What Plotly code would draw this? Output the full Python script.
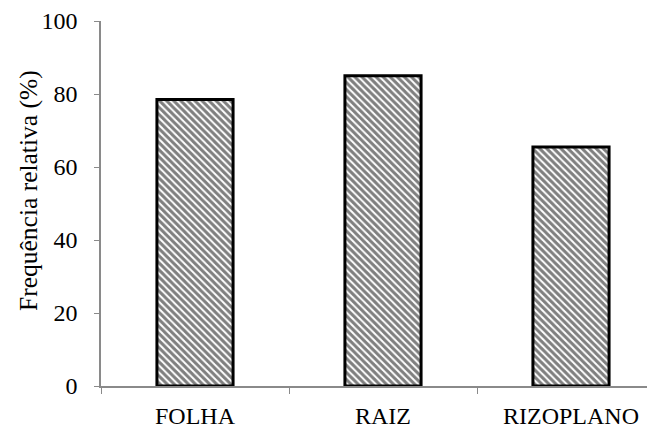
import plotly.graph_objects as go

categories = ["FOLHA", "RAIZ", "RIZOPLANO"]
values = [78.5, 85.0, 65.5]
y_ticks = [0, 20, 40, 60, 80, 100]
y_title = "Frequência relativa (%)"

SERIF = "Liberation Serif, Times New Roman, serif"

fig = go.Figure()
fig.add_trace(go.Bar(
    x=categories, y=values, width=0.405,
    marker=dict(
        color="white",
        line=dict(color="black", width=3),
        pattern=dict(shape="\\", size=5, solidity=0.6, fgcolor="black", bgcolor="white", fillmode="overlay"),
    ),
))

L, T, B, W, H = 93, 13, 50, 655, 428
plot_w = W - L
plot_h = H - T - B

fig.update_layout(
    width=W, height=H,
    margin=dict(l=L, r=0, t=T, b=B, pad=0),
    paper_bgcolor="white", plot_bgcolor="white",
    showlegend=False,
    font=dict(family=SERIF, size=24, color="black"),
)
fig.update_xaxes(
    range=[-0.5, -0.5 + plot_w / 188.0],
    showline=True, linecolor="#8a8a8a", linewidth=1.5,
    ticks="outside", tickson="boundaries", ticklen=6, tickcolor="#8a8a8a",
    tickfont=dict(family=SERIF, size=24, color="black"),
    ticklabelstandoff=7,
    showgrid=False, zeroline=False,
)
fig.update_yaxes(
    range=[0, 100], tickvals=y_ticks,
    showline=True, linecolor="#8a8a8a", linewidth=1.5,
    ticks="outside", ticklen=5, tickcolor="#8a8a8a",
    tickfont=dict(family=SERIF, size=24, color="black"),
    ticklabelstandoff=12,
    showgrid=False, zeroline=False,
)
fig.add_annotation(
    text=y_title, textangle=-90, showarrow=False,
    xref="paper", yref="paper",
    x=(20 - L) / plot_w, y=(T + plot_h - 183) / plot_h,
    xanchor="center", yanchor="middle",
    font=dict(family=SERIF, size=25.5, color="black"),
)
fig.write_html("out.html")
